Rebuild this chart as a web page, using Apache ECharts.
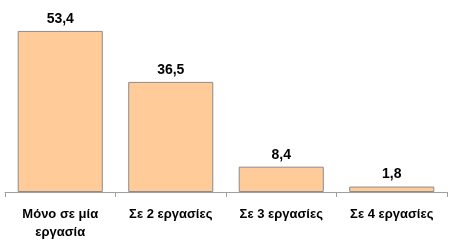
<!DOCTYPE html>
<html>
<head>
<meta charset="utf-8">
<script src="https://cdn.jsdelivr.net/npm/echarts@6/dist/echarts.min.js"></script>
<style>html,body{margin:0;padding:0;background:#fff;}#c{width:450px;height:249px;}</style>
</head>
<body>
<div id="c"></div>
<script>
var categories = ['Μόνο σε μία\nεργασία', 'Σε 2 εργασίες', 'Σε 3 εργασίες', 'Σε 4 εργασίες'];
var values = [53.4, 36.5, 8.4, 1.8];

var chart = echarts.init(document.getElementById('c'), null, {renderer: 'canvas'});
chart.setOption({
  animation: false,
  grid: {left: 5, right: 3, top: 11, bottom: 57, containLabel: false},
  xAxis: {
    type: 'category',
    data: categories,
    axisLine: {lineStyle: {color: '#a0a0a0', width: 1}},
    axisTick: {show: true, length: 5, lineStyle: {color: '#a0a0a0'}},
    axisLabel: {
      color: '#000', fontFamily: 'Liberation Sans, Arial, sans-serif',
      fontWeight: 'bold', fontSize: 13, margin: 13, lineHeight: 18, interval: 0
    }
  },
  yAxis: {
    type: 'value', min: 0, max: 60, show: false,
    splitLine: {show: false}
  },
  series: [{
    type: 'bar',
    data: values,
    barWidth: '77%',
    itemStyle: {color: '#FFCC99', borderColor: '#8c8c8c', borderWidth: 1},
    label: {
      show: true, position: 'top', distance: 5,
      color: '#000', fontFamily: 'Liberation Sans, Arial, sans-serif',
      fontWeight: 'bold', fontSize: 14,
      formatter: function (p) { return String(p.value).replace('.', ','); }
    }
  }]
});
</script>
</body>
</html>
